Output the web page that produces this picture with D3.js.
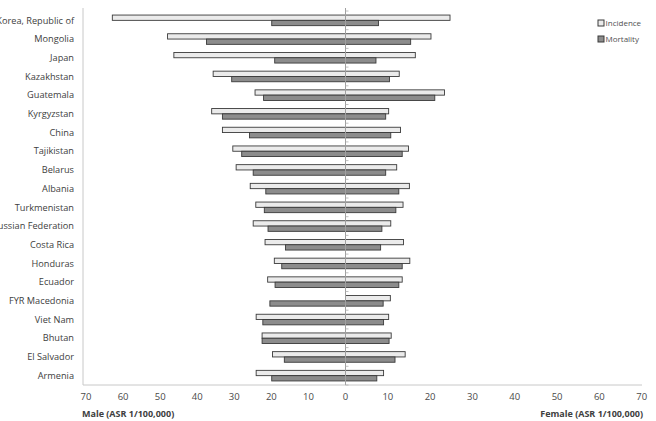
<!DOCTYPE html>
<html>
<head>
<meta charset="utf-8">
<script src="https://cdn.jsdelivr.net/npm/d3@7"></script>
<style>
  body { margin: 0; background: #fff; }
  svg { display: block; font-family: "Open Sans", sans-serif; }
  .cat { font-size: 9.2px; fill: #404040; }
  .tick-lab { font-size: 9.5px; fill: #4a4a4a; }
  .ax-title { font-size: 9px; font-weight: bold; fill: #404040; }
  .leg { font-size: 8px; fill: #505050; }
</style>
</head>
<body>
<div id="chart"></div>
<script>
// countries, top to bottom
const countries = ["Korea, Republic of", "Mongolia", "Japan", "Kazakhstan", "Guatemala",
  "Kyrgyzstan", "China", "Tajikistan", "Belarus", "Albania", "Turkmenistan",
  "Russian Federation", "Costa Rica", "Honduras", "Ecuador", "FYR Macedonia",
  "Viet Nam", "Bhutan", "El Salvador", "Armenia"];

const maleIncidence  = [62.9, 48.0, 46.3, 35.7, 24.4, 36.1, 33.2, 30.4, 29.5, 25.7, 24.2, 24.9, 21.7, 19.2, 21.0, 0, 24.1, 22.5, 19.7, 24.1];
const maleMortality  = [19.9, 37.5, 19.1, 30.7, 22.1, 33.2, 25.9, 28.0, 24.9, 21.5, 21.9, 20.9, 16.2, 17.2, 19.0, 20.4, 22.3, 22.5, 16.5, 19.9];
const femaleIncidence = [24.7, 20.2, 16.5, 12.7, 23.4, 10.2, 13.0, 14.9, 12.1, 15.1, 13.6, 10.7, 13.7, 15.2, 13.4, 10.6, 10.2, 10.8, 14.1, 9.0];
const femaleMortality = [7.8, 15.4, 7.2, 10.4, 21.1, 9.5, 10.7, 13.4, 9.5, 12.6, 11.9, 8.6, 8.3, 13.4, 12.6, 8.9, 9.0, 10.3, 11.7, 7.4];

const ticks = [70, 60, 50, 40, 30, 20, 10, 0];
const series = ["Incidence", "Mortality"];

const width = 656, height = 421;
const incFill = "#ebebeb", mortFill = "#8c8c8c", stroke = "#3a3a3a";

const svg = d3.select("#chart").append("svg")
    .attr("width", width)
    .attr("height", height);

const xL = d3.scaleLinear().domain([0, 70]).range([345.5, 86]);
const xR = d3.scaleLinear().domain([0, 70]).range([345.5, 641.7]);
const y = d3.scaleBand().domain(countries).range([11, 385]);

const barH = 5.3;

// frame lines
svg.append("line")
    .attr("x1", 83).attr("x2", 83)
    .attr("y1", 8).attr("y2", 385)
    .attr("stroke", "#c8c8c8").attr("stroke-width", 1);
svg.append("line")
    .attr("x1", 83).attr("x2", 642)
    .attr("y1", 385).attr("y2", 385)
    .attr("stroke", "#c8c8c8").attr("stroke-width", 1);

const rows = countries.map((c, i) => ({
    c: c,
    mi: maleIncidence[i], mm: maleMortality[i],
    fi: femaleIncidence[i], fm: femaleMortality[i]
}));

const g = svg.append("g");

function bars(key, scale, left, offset, fill) {
    g.selectAll(".b-" + key)
        .data(rows.filter(d => d[key] > 0))
        .enter()
        .append("rect")
        .attr("class", "b-" + key)
        .attr("x", d => left ? scale(d[key]) : scale(0))
        .attr("width", d => Math.abs(scale(d[key]) - scale(0)))
        .attr("y", d => y(d.c) + y.bandwidth() / 2 + offset)
        .attr("height", barH)
        .attr("fill", fill)
        .attr("stroke", stroke)
        .attr("stroke-width", 0.9);
}

bars("mi", xL, true, -barH, incFill);
bars("mm", xL, true, 0, mortFill);
bars("fi", xR, false, -barH, incFill);
bars("fm", xR, false, 0, mortFill);

// center axis
svg.append("line")
    .attr("x1", xL(0)).attr("x2", xL(0))
    .attr("y1", 8).attr("y2", 385)
    .attr("stroke", "#a0a0a0").attr("stroke-width", 1);
svg.selectAll(".ctick")
    .data(countries.concat(["_end"]))
    .enter()
    .append("line")
    .attr("x1", xL(0)).attr("x2", xL(0) + 3)
    .attr("y1", (d, i) => 11 + i * y.step())
    .attr("y2", (d, i) => 11 + i * y.step())
    .attr("stroke", "#b0b0b0").attr("stroke-width", 0.8);

// category labels
svg.selectAll(".cat")
    .data(countries)
    .enter()
    .append("text")
    .attr("class", "cat")
    .attr("x", 74)
    .attr("y", d => y(d) + y.bandwidth() / 2)
    .attr("dy", "0.35em")
    .attr("text-anchor", "end")
    .text(d => d);

// tick labels
svg.selectAll(".tl")
    .data(ticks)
    .enter()
    .append("text")
    .attr("class", "tick-lab")
    .attr("x", d => xL(d))
    .attr("y", 397)
    .attr("dy", "0.35em")
    .attr("text-anchor", "middle")
    .text(d => d);
svg.selectAll(".tr")
    .data(ticks.filter(d => d > 0))
    .enter()
    .append("text")
    .attr("class", "tick-lab")
    .attr("x", d => xR(d))
    .attr("y", 397)
    .attr("dy", "0.35em")
    .attr("text-anchor", "middle")
    .text(d => d);

svg.append("text")
    .attr("class", "ax-title")
    .attr("x", 82).attr("y", 417)
    .text("Male (ASR 1/100,000)");
svg.append("text")
    .attr("class", "ax-title")
    .attr("x", 643).attr("y", 417)
    .attr("text-anchor", "end")
    .text("Female (ASR 1/100,000)");

// legend
const leg = svg.selectAll(".lg")
    .data(series)
    .enter()
    .append("g")
    .attr("transform", (d, i) => "translate(598," + (23 + i * 16) + ")");
leg.append("rect")
    .attr("x", 0).attr("y", -3)
    .attr("width", 6).attr("height", 6)
    .attr("fill", (d, i) => i === 0 ? incFill : mortFill)
    .attr("stroke", stroke).attr("stroke-width", 1);
leg.append("text")
    .attr("class", "leg")
    .attr("x", 7.5).attr("y", 0)
    .attr("dy", "0.35em")
    .text(d => d);
</script>
</body>
</html>
